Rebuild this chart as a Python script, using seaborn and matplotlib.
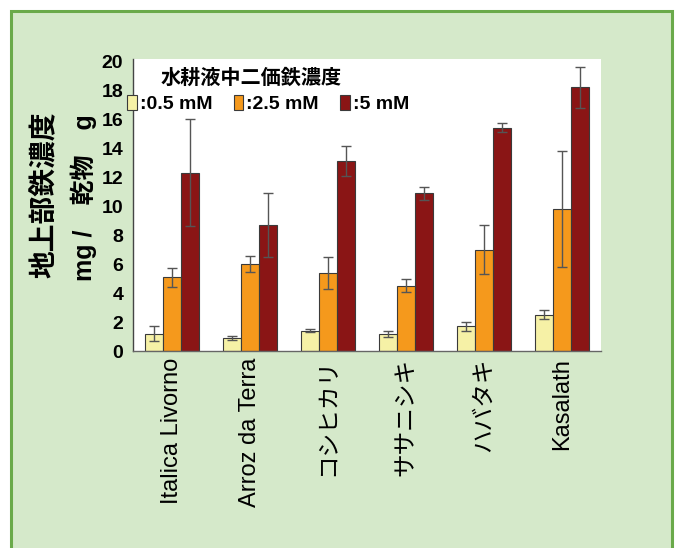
import matplotlib
matplotlib.use("Agg")
import matplotlib.pyplot as plt
from matplotlib.patches import Rectangle
import seaborn as sns
import pandas as pd

# Cultivars and hydroponic Fe(II) concentrations
cultivars = ["Italica Livorno", "Arroz da Terra", "コシヒカリ", "ササニシキ", "ハバタキ", "Kasalath"]
levels = ["0.5 mM", "2.5 mM", "5 mM"]

# Shoot Fe concentration (mg / g dry weight), mean and error
fe_05 = [1.2, 0.9, 1.4, 1.2, 1.7, 2.5]
fe_25 = [5.1, 6.0, 5.4, 4.5, 7.0, 9.8]
fe_50 = [12.3, 8.7, 13.1, 10.9, 15.4, 18.2]
err_05 = [0.5, 0.15, 0.1, 0.2, 0.33, 0.3]
err_25 = [0.65, 0.55, 1.1, 0.45, 1.7, 4.0]
err_50 = [3.7, 2.2, 1.05, 0.45, 0.3, 1.4]

yticks = [0, 2, 4, 6, 8, 10, 12, 14, 16, 18, 20]
legend_title = "水耕液中二価鉄濃度"
ylabel_main = "地上部鉄濃度"
ylabel_unit = "mg /\u3000乾物\u3000g"

colors = ["#f6f1a6", "#f5991c", "#8a1515"]

df = pd.DataFrame({
    "cultivar": cultivars * 3,
    "level": [lv for lv in levels for _ in cultivars],
    "fe": fe_05 + fe_25 + fe_50,
})
errs = [err_05, err_25, err_50]

sns.set_style("white")
plt.rcParams["font.family"] = ["Liberation Sans", "Noto Sans CJK JP"]
plt.rcParams["text.color"] = "black"
plt.rcParams["xtick.color"] = "black"
plt.rcParams["ytick.color"] = "black"

W, H = 676, 548
fig = plt.figure(figsize=(W / 100, H / 100), dpi=100)
fig.patch.set_facecolor("white")

# light green panel with a green frame
fig.patches.append(Rectangle((10.5 / W, -0.02), 661.5 / W, (H - 10.5) / H + 0.02,
                             transform=fig.transFigure, facecolor="#d5e9ca",
                             edgecolor="#6aaa4a", linewidth=2.2, zorder=-10))

ax = fig.add_axes([133 / W, 1 - 351 / H, (601 - 133) / W, (351 - 59) / H])
ax.set_facecolor("white")

sns.barplot(data=df, x="cultivar", y="fe", hue="level", order=cultivars,
            hue_order=levels, palette=colors, errorbar=None, width=0.68,
            edgecolor="#3a3a3a", linewidth=0.8, saturation=1, ax=ax)

for cont, e in zip(ax.containers, errs):
    xs = [b.get_x() + b.get_width() / 2 for b in cont]
    ys = [b.get_height() for b in cont]
    ax.errorbar(xs, ys, yerr=e, fmt="none", ecolor="#555555", elinewidth=1.0,
                capsize=3.6, capthick=1.0, zorder=5)

ax.set_ylim(0, 20.15)
ax.set_yticks(yticks)
ax.set_yticklabels([str(t) for t in yticks], fontsize=14, fontweight="bold")
ax.set_xlim(-0.5, len(cultivars) - 0.5)
ax.set_xlabel("")
ax.set_ylabel("")
ax.tick_params(axis="y", direction="out", length=4, width=0.8, color="#777777",
               labelcolor="black", pad=3)
ax.tick_params(axis="x", length=0, pad=5, labelcolor="black")
for lab in ax.get_xticklabels():
    lab.set_rotation(90)
    lab.set_fontsize(17)
    lab.set_va("top")
    lab.set_ha("center")

for side in ["top", "right"]:
    ax.spines[side].set_visible(False)
ax.spines["left"].set_color("#444444")
ax.spines["left"].set_linewidth(1.0)
ax.spines["bottom"].set_color("#666666")
ax.spines["bottom"].set_linewidth(1.0)

# legend
handles, labels = ax.get_legend_handles_labels()
ax.legend(handles, [":" + l for l in labels], loc="center left",
          bbox_to_anchor=(127 / W, 1 - 104 / H), bbox_transform=fig.transFigure,
          ncol=3, frameon=False, borderpad=0, borderaxespad=0,
          handlelength=0.5, handleheight=0.8, handletextpad=0.15,
          columnspacing=1.1, prop={"size": 14, "weight": "bold"})
fig.text(251 / W, 1 - 78 / H, legend_title, ha="center", va="center",
         fontsize=14.5, fontweight="bold", color="black")

# y-axis title in two lines
fig.text(46 / W, 1 - 195 / H, ylabel_main, rotation=90, ha="center", va="center",
         fontsize=20, fontweight="bold", color="black")
fig.text(84 / W, 1 - 198 / H, ylabel_unit, rotation=90, ha="center", va="center",
         fontsize=18, fontweight="bold", color="black")

fig.savefig("out.png", dpi=100)
